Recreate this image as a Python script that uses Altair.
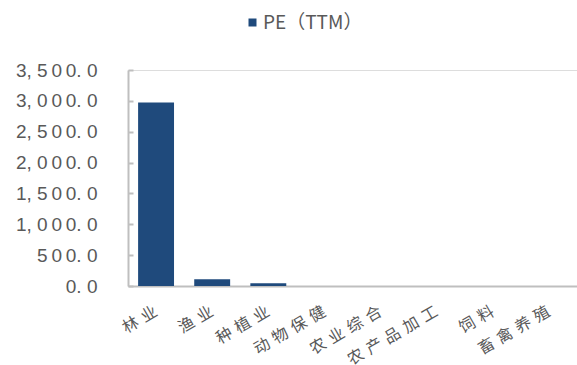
import altair as alt
import pandas as pd

# Sub-industry PE (TTM)
categories = ["林业", "渔业", "种植业", "动物保健", "农业综合", "农产品加工", "饲料", "畜禽养殖"]
pe_values = [2975.0, 108.0, 44.0, 0.0, 0.0, 0.0, 0.0, 0.0]
series_name = "PE（TTM）"
y_ticks = [0, 500, 1000, 1500, 2000, 2500, 3000, 3500]

df = pd.DataFrame({"行业": categories, "PE": pe_values, "系列": series_name})

AXIS_GRAY = "#BFBFBF"
TEXT_GRAY = "#595959"
BAR_BLUE = "#1F4A7C"

# "3,500.0" -> "3, 5 0 0. 0" with thin spaces between digits
y_label_expr = (
    "replace(replace(replace(format(datum.value, ',.1f'), /(\\d)(?=\\d)/g, '$1\u2009'), "
    "',', ', '), '.', '. ')"
)
# spread out the CJK characters of category labels
x_label_expr = "join(split(datum.label, ''), '\u2004')"

chart = (
    alt.Chart(df)
    .mark_bar(color=BAR_BLUE)
    .encode(
        x=alt.X(
            "行业:N",
            sort=categories,
            scale=alt.Scale(paddingInner=0.36, paddingOuter=0.18),
            axis=alt.Axis(
                title=None,
                ticks=False,
                domainColor=AXIS_GRAY,
                domainWidth=2,
                labelAngle=-30,
                labelAlign="right",
                labelBaseline="middle",
                labelPadding=24,
                labelOverlap=False,
                labelFont="Noto Sans CJK SC",
                labelFontSize=16,
                labelColor=TEXT_GRAY,
                labelExpr=x_label_expr,
            ),
        ),
        y=alt.Y(
            "PE:Q",
            scale=alt.Scale(domain=[0, 3500], nice=False),
            axis=alt.Axis(
                title=None,
                values=y_ticks,
                # short inward ticks: a grid line dashed so only its first 5px show
                grid=True,
                gridColor=AXIS_GRAY,
                gridWidth=2,
                gridDash=[5, 2000],
                tickSize=0,
                domainColor=AXIS_GRAY,
                domainWidth=2,
                labelPadding=31,
                labelOverlap=False,
                labelFont="Liberation Sans",
                labelFontSize=19,
                labelColor=TEXT_GRAY,
                labelExpr=y_label_expr,
            ),
        ),
        fill=alt.Fill(
            "系列:N",
            scale=alt.Scale(range=[BAR_BLUE]),
            legend=alt.Legend(
                title=None,
                orient="none",
                legendX=115,
                legendY=-57,
                symbolType="square",
                symbolSize=64,
                symbolStrokeWidth=0,
                labelFont="Noto Sans CJK SC",
                labelFontSize=19,
                labelColor=TEXT_GRAY,
                labelOffset=1,
            ),
        ),
    )
    .properties(
        width=449,
        height=216,
        autosize=alt.AutoSizeParams(type="none"),
        padding={"left": 128, "top": 70, "right": 0, "bottom": 79},
    )
    .configure_view(stroke=None)
    .configure(background="white")
)

chart.save("out.html", embed_options={"renderer": "svg", "actions": False})
